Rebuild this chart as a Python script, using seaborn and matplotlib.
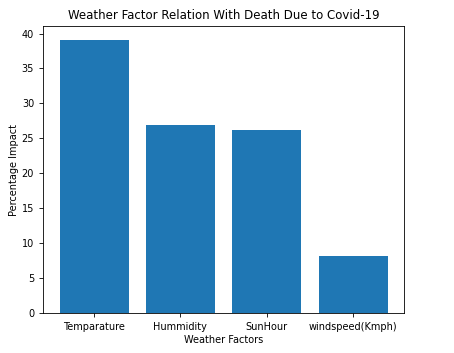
import matplotlib
matplotlib.use("Agg")
import matplotlib.pyplot as plt
import seaborn as sns
import pandas as pd

# -----------------------------
# DATA
# -----------------------------
factors = ["Temparature", "Hummidity", "SunHour", "windspeed(Kmph)"]
impact = [39.1, 26.9, 26.2, 8.1]

df = pd.DataFrame({"Weather Factors": factors, "Percentage Impact": impact})

# -----------------------------
# PLOT
# -----------------------------
fig = plt.figure(figsize=(4.54, 3.53), dpi=100)
ax = fig.add_axes([0.095, 0.113, 0.795, 0.813])

sns.barplot(data=df, x="Weather Factors", y="Percentage Impact",
            color="#1f77b4", saturation=1, width=0.8, ax=ax)

ax.set_xlim(-0.59, 3.59)
ax.set_ylim(0, 41.06)
ax.set_yticks(range(0, 41, 5))
ax.tick_params(labelsize=7, length=3, width=0.6)
for s in ax.spines.values():
    s.set_linewidth(0.6)

ax.set_title("Weather Factor Relation With Death Due to Covid-19", fontsize=8.5, pad=5)
ax.set_xlabel("Weather Factors", fontsize=7, labelpad=2)
ax.set_ylabel("Percentage Impact", fontsize=7, labelpad=2)

fig.savefig("out.png", dpi=100)
